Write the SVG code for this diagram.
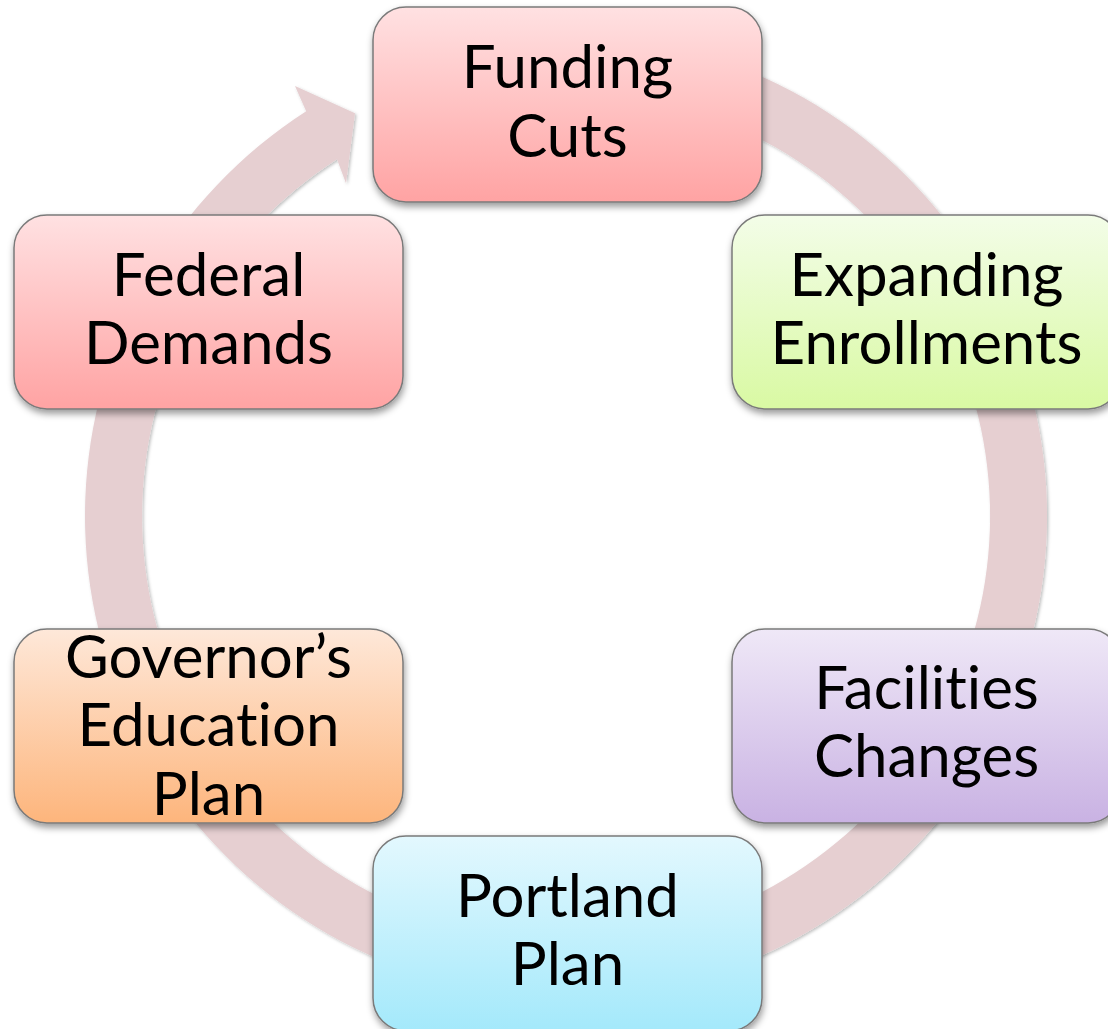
<svg xmlns="http://www.w3.org/2000/svg" width="1108" height="1029" viewBox="0 0 1108 1029">
  <defs>
    <style>
      .box { stroke: #7a7a7a; stroke-width: 1.5; filter: url(#shadow); }
      .lbl { font-family: Lato, "Open Sans", "Liberation Sans", sans-serif; font-size: 60px; fill: #000; text-anchor: middle; font-variant-ligatures: none; font-feature-settings: "liga" 0, "clig" 0; }
      .ring { fill: #e6cfd1; filter: url(#ringShadow); }
    </style>
    <filter id="shadow" x="-10%" y="-10%" width="120%" height="130%">
      <feDropShadow dx="1" dy="4" stdDeviation="3.5" flood-color="#000" flood-opacity="0.4"/>
    </filter>
    <filter id="ringShadow" x="-10%" y="-10%" width="120%" height="120%">
      <feDropShadow dx="1.5" dy="1.5" stdDeviation="1.5" flood-color="#000" flood-opacity="0.25"/>
    </filter>
    <linearGradient id="gRed" x1="0" y1="0" x2="0" y2="1">
      <stop offset="0" stop-color="#ffe1e2"/>
      <stop offset="1" stop-color="#ffa3a3"/>
    </linearGradient>
    <linearGradient id="gGreen" x1="0" y1="0" x2="0" y2="1">
      <stop offset="0" stop-color="#f3fde8"/>
      <stop offset="1" stop-color="#d9f9a3"/>
    </linearGradient>
    <linearGradient id="gPurple" x1="0" y1="0" x2="0" y2="1">
      <stop offset="0" stop-color="#efe8f7"/>
      <stop offset="1" stop-color="#c9b2e3"/>
    </linearGradient>
    <linearGradient id="gBlue" x1="0" y1="0" x2="0" y2="1">
      <stop offset="0" stop-color="#e3f8fe"/>
      <stop offset="1" stop-color="#a4e9fb"/>
    </linearGradient>
    <linearGradient id="gOrange" x1="0" y1="0" x2="0" y2="1">
      <stop offset="0" stop-color="#fee8d9"/>
      <stop offset="1" stop-color="#fdb57c"/>
    </linearGradient>
  </defs>

  <g id="connectors">
    <path class="ring" d="M 524.08 36.83 A 481 481 0 1 1 306.2 111.2 L 295 86 L 355 113.3 L 346 183.3 L 337 159.2 A 424 424 0 1 0 529.04 93.62 Z"/>
  </g>

  <g id="funding-cuts">
    <rect class="box" x="373" y="7" width="389" height="195" rx="33" fill="url(#gRed)"/>
    <text class="lbl" x="567.5" y="88">Funding</text>
    <text class="lbl" x="567.5" y="157">Cuts</text>
  </g>

  <g id="expanding-enrollments">
    <rect class="box" x="732" y="215" width="389" height="194" rx="33" fill="url(#gGreen)"/>
    <text class="lbl" x="926.5" y="296">Expanding</text>
    <text class="lbl" x="926.5" y="364">Enrollments</text>
  </g>

  <g id="facilities-changes">
    <rect class="box" x="732" y="629" width="389" height="194" rx="33" fill="url(#gPurple)"/>
    <text class="lbl" x="926.5" y="709">Facilities</text>
    <text class="lbl" x="926.5" y="777">Changes</text>
  </g>

  <g id="portland-plan">
    <rect class="box" x="373" y="836" width="389" height="195" rx="33" fill="url(#gBlue)"/>
    <text class="lbl" x="567.5" y="917">Portland</text>
    <text class="lbl" x="567.5" y="985">Plan</text>
  </g>

  <g id="governors-education-plan">
    <rect class="box" x="14" y="629" width="389" height="194" rx="33" fill="url(#gOrange)"/>
    <text class="lbl" x="208.5" y="678">Governor’s</text>
    <text class="lbl" x="208.5" y="746">Education</text>
    <text class="lbl" x="208.5" y="815">Plan</text>
  </g>

  <g id="federal-demands">
    <rect class="box" x="14" y="215" width="389" height="194" rx="33" fill="url(#gRed)"/>
    <text class="lbl" x="208.5" y="296">Federal</text>
    <text class="lbl" x="208.5" y="364">Demands</text>
  </g>
</svg>
